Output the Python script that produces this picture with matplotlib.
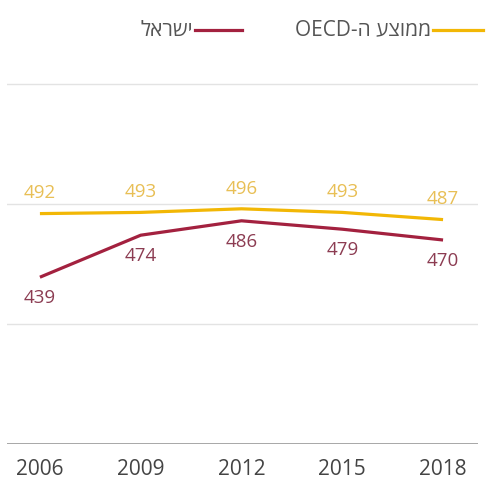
import matplotlib.pyplot as plt

# ציוני PISA - ישראל מול ממוצע OECD
years = [2006, 2009, 2012, 2015, 2018]
israel = [439, 474, 486, 479, 470]
oecd = [492, 493, 496, 493, 487]

# matplotlib has no bidi support, so Hebrew strings are stored in visual order
label_israel = "ישראל"[::-1]
label_oecd = "OECD-ה " + "ממוצע"[::-1]

red = "#a3213f"
gold = "#f2b705"
plt.rcParams['font.family'] = ['Open Sans', 'DejaVu Sans']

fig = plt.figure(figsize=(4.86, 4.82), dpi=100)
ax = fig.add_axes([7 / 486, 38 / 482, 471 / 486, 408 / 482])

ax.plot(years, oecd, color=gold, lw=2.3, solid_capstyle='butt', zorder=3)
ax.plot(years, israel, color=red, lw=2.3, solid_capstyle='butt', zorder=3)

for x, v in zip(years, oecd):
    ax.annotate(str(v), (x, v), xytext=(0, 8), textcoords='offset points',
                ha='center', va='bottom', color="#e8bf55", fontsize=13.5)
for x, v in zip(years, israel):
    ax.annotate(str(v), (x, v), xytext=(0, -8.5), textcoords='offset points',
                ha='center', va='top', color="#8c3c52", fontsize=13.5)

ax.set_xlim(2005.02, 2019.04)
ax.set_ylim(300, 640)
ax.set_yticks([300, 400, 500, 600])
ax.set_yticklabels([])
ax.set_xticks(years)
ax.tick_params(axis='both', length=0)
ax.tick_params(axis='x', labelsize=15, colors="#444444", pad=10.5)
ax.grid(axis='y', color="#e3e3e3", lw=1)
ax.axhline(300, color="#9a9a9a", lw=1.2, zorder=2)
for s in ax.spines.values():
    s.set_visible(False)

# מקרא בראש הגרף, מימין לשמאל
fig.add_artist(plt.Line2D([433 / 486, 483 / 486], [1 - 30 / 482] * 2, color=gold, lw=2.3))
fig.text(431 / 486, 1 - 30 / 482, label_oecd, ha='right', va='center', fontsize=15, color="#555555")
fig.add_artist(plt.Line2D([195 / 486, 242 / 486], [1 - 30 / 482] * 2, color=red, lw=2.3))
fig.text(193 / 486, 1 - 30 / 482, label_israel, ha='right', va='center', fontsize=15, color="#555555")

fig.savefig("out.png", dpi=100)
